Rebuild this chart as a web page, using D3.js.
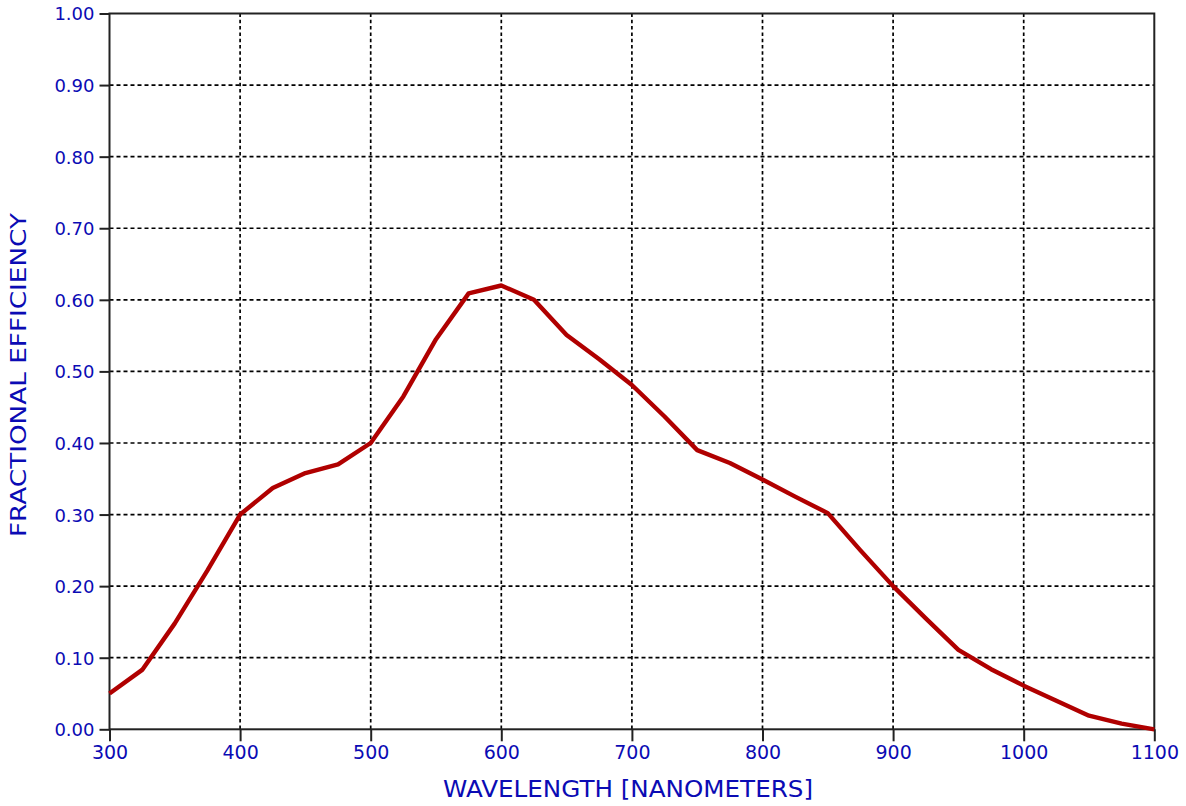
<!DOCTYPE html>
<html>
<head>
<meta charset="utf-8">
<script src="https://cdn.jsdelivr.net/npm/d3@7"></script>
<style>
  body { margin: 0; background: #fff; }
  svg { display: block; }
  .lbl { fill: #0b0bb4; font-family: "DejaVu Sans", sans-serif; }
</style>
</head>
<body>
<div id="chart"></div>
<script>
// values
const wavelength = [300, 325, 350, 375, 400, 425, 450, 475, 500, 525, 550, 575, 600, 625, 650, 675, 700,
                    725, 750, 775, 800, 825, 850, 875, 900, 925, 950, 975, 1000, 1025, 1050, 1075, 1100];
const efficiency = [0.050, 0.083, 0.148, 0.222, 0.300, 0.337, 0.358, 0.370, 0.400, 0.465, 0.545, 0.609, 0.620,
                    0.600, 0.551, 0.517, 0.481, 0.437, 0.390, 0.372, 0.349, 0.325, 0.302, 0.250, 0.200, 0.155,
                    0.111, 0.084, 0.061, 0.040, 0.019, 0.008, 0.000];
const xTicks = [300, 400, 500, 600, 700, 800, 900, 1000, 1100];
const yTicks = [0, 0.1, 0.2, 0.3, 0.4, 0.5, 0.6, 0.7, 0.8, 0.9, 1.0];
const xTitle = 'WAVELENGTH [NANOMETERS]';
const yTitle = 'FRACTIONAL EFFICIENCY';

const data = wavelength.map((w, i) => ({w: w, v: efficiency[i]}));

const W = 1186, H = 806;
const margin = {t: 13.5, l: 109.5, r: 31.7, b: 76.7};
const w = W - margin.l - margin.r;
const h = H - margin.t - margin.b;

const svg = d3.select('#chart').append('svg')
  .attr('width', W)
  .attr('height', H);

const plot = svg.append('g')
  .attr('transform', `translate(${margin.l},${margin.t})`);

const scaleX = d3.scaleLinear().domain([300, 1100]).range([0, w]);
const scaleY = d3.scaleLinear().domain([0, 1]).range([h, 0]);

//////////////////////////////////////////////////////////////////// grid

plot.append('g').attr('class', 'grid')
  .selectAll('line.gx')
  .data(xTicks.slice(1, -1))
  .enter().append('line')
  .attr('x1', d => scaleX(d)).attr('x2', d => scaleX(d))
  .attr('y1', 0).attr('y2', h)
  .attr('stroke', '#000').attr('stroke-width', 1.7)
  .attr('stroke-dasharray', '3.5,2.8');

plot.append('g').attr('class', 'grid')
  .selectAll('line.gy')
  .data(yTicks.slice(1, -1))
  .enter().append('line')
  .attr('x1', 0).attr('x2', w)
  .attr('y1', d => scaleY(d)).attr('y2', d => scaleY(d))
  .attr('stroke', '#000').attr('stroke-width', 1.7)
  .attr('stroke-dasharray', '4,3');

//////////////////////////////////////////////////////////////////// axes

const axisX = d3.axisBottom(scaleX)
  .tickValues(xTicks)
  .tickSize(12)
  .tickPadding(4)
  .tickFormat(d3.format('d'));
const gx = plot.append('g')
  .attr('class', 'axis axis-x')
  .attr('transform', `translate(0,${h})`)
  .call(axisX);

const axisY = d3.axisLeft(scaleY)
  .tickValues(yTicks)
  .tickSize(10)
  .tickPadding(5)
  .tickFormat(d3.format('.2f'));
const gy = plot.append('g')
  .attr('class', 'axis axis-y')
  .call(axisY);

[gx, gy].forEach(g => {
  g.select('.domain').remove();
  g.selectAll('line').attr('stroke', '#222').attr('stroke-width', 2);
  g.selectAll('text').attr('class', 'lbl').attr('fill', null);
});
gx.selectAll('text').style('font-size', '19px');
gy.selectAll('text').style('font-size', '18px').attr('dy', '0.36em');

// frame
plot.append('rect')
  .attr('width', w).attr('height', h)
  .attr('fill', 'none')
  .attr('stroke', '#222').attr('stroke-width', 2);

//////////////////////////////////////////////////////////////////// curve

const line = d3.line()
  .x(d => scaleX(d.w))
  .y(d => scaleY(d.v));

plot.append('path')
  .datum(data)
  .attr('d', line)
  .attr('fill', 'none')
  .attr('stroke', '#b00000')
  .attr('stroke-width', 4.4)
  .attr('stroke-linejoin', 'round');

//////////////////////////////////////////////////////////////////// titles

svg.append('text')
  .attr('class', 'lbl')
  .attr('x', 628)
  .attr('y', 796.5)
  .attr('text-anchor', 'middle')
  .attr('textLength', 370)
  .attr('lengthAdjust', 'spacingAndGlyphs')
  .style('font-size', '23px')
  .text(xTitle);

svg.append('text')
  .attr('class', 'lbl')
  .attr('transform', 'translate(25.5,375) rotate(-90)')
  .attr('text-anchor', 'middle')
  .attr('textLength', 324)
  .attr('lengthAdjust', 'spacingAndGlyphs')
  .style('font-size', '20.5px')
  .text(yTitle);
</script>
</body>
</html>
